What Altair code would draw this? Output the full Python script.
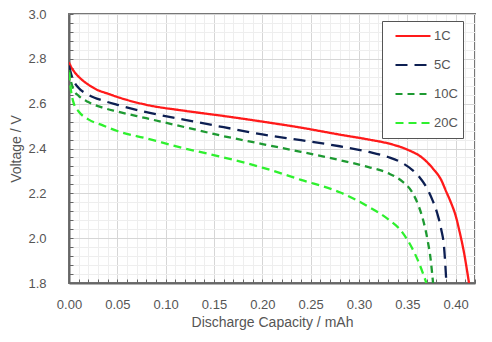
import altair as alt
import pandas as pd

# ---- data ----
series_names = ["1C", "5C", "10C", "20C"]

cap_1c = [0.0, 0.002, 0.005, 0.01, 0.02, 0.03, 0.04, 0.05, 0.08, 0.12, 0.16, 0.20, 0.24, 0.28,
          0.31, 0.33, 0.35, 0.365, 0.3766, 0.385, 0.39, 0.395, 0.40, 0.404, 0.408, 0.4138]
v_1c = [2.785, 2.765, 2.745, 2.72, 2.685, 2.66, 2.645, 2.63, 2.595, 2.568, 2.545, 2.52, 2.493, 2.462,
        2.44, 2.423, 2.395, 2.36, 2.31, 2.26, 2.21, 2.16, 2.10, 2.03, 1.95, 1.80]

cap_5c = [0.0, 0.002, 0.005, 0.01, 0.02, 0.035, 0.05, 0.08, 0.12, 0.16, 0.20, 0.24, 0.28,
          0.31, 0.33, 0.345, 0.355, 0.362, 0.37, 0.376, 0.381, 0.385, 0.388, 0.3904]
v_5c = [2.77, 2.735, 2.70, 2.67, 2.64, 2.614, 2.595, 2.562, 2.528, 2.495, 2.463, 2.437, 2.41,
        2.385, 2.362, 2.335, 2.305, 2.275, 2.225, 2.17, 2.11, 2.04, 1.96, 1.80]

cap_10c = [0.0, 0.002, 0.005, 0.01, 0.02, 0.035, 0.05, 0.08, 0.12, 0.16, 0.20, 0.24, 0.28,
           0.31, 0.33, 0.345, 0.355, 0.362, 0.367, 0.371, 0.374, 0.3766]
v_10c = [2.75, 2.70, 2.66, 2.635, 2.607, 2.582, 2.565, 2.535, 2.495, 2.455, 2.42, 2.385, 2.348,
         2.317, 2.29, 2.252, 2.205, 2.14, 2.07, 1.99, 1.91, 1.80]

cap_20c = [0.0, 0.002, 0.005, 0.01, 0.02, 0.035, 0.05, 0.08, 0.12, 0.16, 0.20, 0.24, 0.28,
           0.31, 0.33, 0.345, 0.355, 0.362, 0.3697]
v_20c = [2.74, 2.66, 2.60, 2.565, 2.53, 2.503, 2.478, 2.445, 2.40, 2.36, 2.315, 2.26, 2.205,
         2.14, 2.085, 2.025, 1.955, 1.89, 1.80]

x_ticks = [round(i * 0.01, 2) for i in range(43)]
y_ticks = [round(1.8 + i * 0.04, 2) for i in range(31)]

colors = ["#ff1a1a", "#0d1f52", "#1e9a32", "#2ef02e"]
dashes = [[1, 0], [12, 7], [7, 5], [8, 5]]

rows = []
for name, caps, volts in zip(series_names, [cap_1c, cap_5c, cap_10c, cap_20c],
                             [v_1c, v_5c, v_10c, v_20c]):
    for c, v in zip(caps, volts):
        rows.append({"series": name, "cap": c, "volt": v})
df = pd.DataFrame(rows)

font = "Liberation Sans"
txt = "#555555"

x_major = "abs(datum.value*20 - round(datum.value*20)) < 0.001"
y_major = "abs(datum.value*5 - round(datum.value*5)) < 0.001"

x_axis = alt.Axis(
    values=x_ticks,
    labelExpr=f"{x_major} ? format(datum.value, '.2f') : ''",
    title="Discharge Capacity / mAh",
    gridColor={"condition": {"test": x_major, "value": "#d6d6d6"}, "value": "#eeeeee"},
    gridWidth=1,
    tickSize={"expr": "-4"},
    tickColor="#666666",
    domainColor="#666666",
    domainWidth=2,
    labelFont=font, labelFontSize=13, labelColor=txt, labelPadding=19,
    titleFont=font, titleFontSize=14, titleFontWeight="normal", titleColor=txt,
    titlePadding=4, labelFlush=False,
)
y_axis = alt.Axis(
    values=y_ticks,
    labelExpr=f"{y_major} ? format(datum.value, '.1f') : ''",
    title="Voltage / V",
    gridColor={"condition": {"test": y_major, "value": "#d6d6d6"}, "value": "#eeeeee"},
    gridWidth=1,
    tickSize={"expr": "-4"},
    tickColor="#666666",
    domainColor="#666666",
    domainWidth=2,
    labelFont=font, labelFontSize=13, labelColor=txt, labelPadding=27,
    titleFont=font, titleFontSize=14, titleFontWeight="normal", titleColor=txt,
    titlePadding=4, labelFlush=False,
)

legend = alt.Legend(
    title=None, orient="none", legendX=313, legendY=7,
    symbolType="stroke", symbolSize=1225, symbolStrokeWidth=2.2,
    clipHeight=20, rowPadding=9, padding=5, symbolOffset=7,
    strokeColor="#555555", fillColor="white",
    labelFont=font, labelFontSize=13, labelColor=txt, labelOffset=2,
)

chart = alt.Chart(df).mark_line(strokeWidth=2.3, clip=True, interpolate="monotone").encode(
    x=alt.X("cap:Q", scale=alt.Scale(domain=[0, 0.42], nice=False, zero=False), axis=x_axis),
    y=alt.Y("volt:Q", scale=alt.Scale(domain=[1.8, 3.0], nice=False, zero=False), axis=y_axis),
    color=alt.Color("series:N", scale=alt.Scale(domain=series_names, range=colors),
                    sort=series_names, legend=legend),
    strokeDash=alt.StrokeDash("series:N", scale=alt.Scale(domain=series_names, range=dashes),
                              sort=series_names, legend=legend),
    detail="series:N",
).properties(
    width=406, height=269,
    autosize=alt.AutoSizeParams(type="none"),
    padding={"left": 69, "top": 14, "right": 17, "bottom": 59},
    background="white",
).configure_view(stroke="#777777", strokeWidth=2)

chart.save("out.html", embed_options={"renderer": "svg", "actions": False})
